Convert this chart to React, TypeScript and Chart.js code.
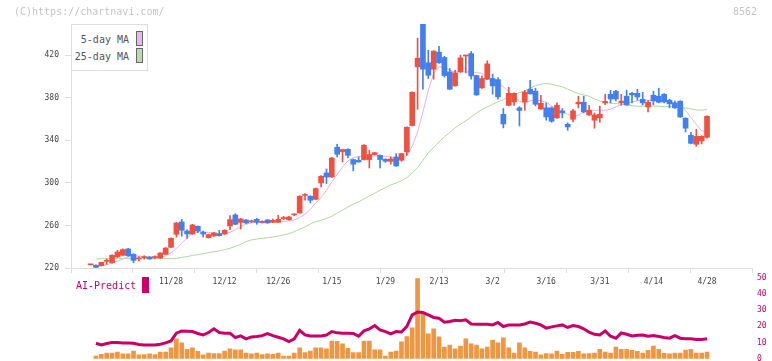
import React, { useEffect, useRef } from "react";
import { Chart, registerables } from "chart.js";
Chart.register(...registerables);

// candle index of the first array element (index 0 = 11/28)
const FIRST = -15;

const dateLabels = ["11/28", "12/12", "12/26", "1/15", "1/29", "2/13", "3/2", "3/16", "3/31", "4/14", "4/28"];
const dateLabelIndex = [0, 10, 20, 30, 40, 50, 60, 70, 80, 90, 100];

const opens = [
  223, 222.6, 222.2, 226.3, 225, 230.4, 232, 237.9, 232.9, 228.6, 229.7, 230.4, 229.8, 229.4, 232.9,
  239.5, 251.7, 263.3, 254.8, 252, 259.2, 253.6, 248.5, 250.1, 252.3,
  252, 259.5, 269.9, 263, 265.2, 263.4, 265.8, 262.7, 265.2, 263,
  263, 266.5, 265.5, 270, 271.8, 288.2, 287.5, 284.6, 300, 309.4,
  305.6, 333.6, 329.5, 331.7, 322, 321.3, 322, 322, 326.7, 326,
  322.3, 320.4, 324.5, 321.3, 329.2, 354, 409.2, 449.3, 413, 407,
  423, 418, 404.5, 391.3, 404.5, 419.4, 421.7, 401, 389.4, 397.6,
  398.2, 397.2, 364.6, 373, 376.2, 370.6, 376.2, 388.2, 386.3, 369.6,
  370.6, 370.6, 361.2, 367.8, 355.2, 359.9, 374.4, 375.9, 364, 359,
  361.2, 375.3, 383.4, 386.3, 375.6, 381.6, 384.3, 384.3, 378.7, 371.5,
  382.5, 381.6, 383.4, 377.8, 375.3, 376.9, 360.9, 344.9, 336.4, 339.5,
  343,
];
const closes = [
  223, 220.6, 225.3, 226.8, 232, 235, 237.3, 231.6, 227.2, 229, 230.1, 228.5, 230.1, 234.1, 238.8,
  247.9, 262.4, 255.5, 252, 260.5, 254.8, 252, 251.4, 253, 250.4,
  255.5, 265.5, 261.1, 266.1, 262.4, 263.8, 263, 263.9, 262.4, 264.8,
  265.8, 266.8, 268, 270.3, 287.5, 288.6, 283.7, 294.7, 306.3, 305.6,
  323.5, 327, 331.4, 326, 317.6, 319.8, 335.5, 326.7, 328.5, 322,
  320.4, 322.6, 316, 327.6, 352.4, 385.3, 417.3, 407, 401.3, 424,
  413, 401, 388.2, 403.5, 417.6, 419.8, 400.7, 382.8, 398.2, 412,
  391.3, 381, 355.5, 384.3, 384.3, 368.2, 385.3, 383.8, 374, 375,
  362.1, 358, 373.1, 365.9, 352.7, 367.8, 375.9, 366.8, 368.4, 364,
  364.6, 376.6, 379, 379, 376.9, 373.4, 382.8, 380.9, 375.3, 375.9,
  377.2, 375.9, 376.2, 374.4, 370.6, 362.1, 351.5, 337.3, 343.9, 343.9,
  362.7,
];
const highs = [
  223.3, 223, 225.5, 228.5, 232.5, 236.6, 238, 238.5, 233.5, 230.8, 231.6, 230.8, 231.5, 234.5, 239.2,
  248.3, 262.8, 265.8, 256, 261.1, 259.6, 254.8, 251.8, 253.6, 255.5,
  256, 269.3, 271.1, 266.7, 265.6, 265, 266.7, 264.3, 265.6, 266,
  269.6, 268.6, 268.5, 271, 288, 290, 288, 295.3, 306.9, 313.2,
  324, 336.4, 331.8, 332.2, 322.5, 324.5, 336, 330.7, 328.7, 326.5,
  322.7, 324.5, 327.6, 328, 352.8, 385.7, 436.2, 449.3, 424.9, 424.4,
  428.6, 419.2, 407.6, 406, 420.2, 420.2, 423.6, 401.5, 400.7, 414.9,
  402.3, 399.2, 370, 390, 384.7, 371.8, 387.2, 396.6, 389.1, 382.5,
  375.3, 371.5, 375.3, 370, 356.5, 369.3, 381.6, 381.6, 373.1, 365.9,
  372.2, 383.4, 387.2, 387.2, 383.4, 387.2, 385.3, 388.1, 385.3, 377.8,
  386.3, 389.1, 384.1, 378.7, 376.9, 377.3, 361.3, 347.7, 350.5, 344.3,
  363.1,
];
const lows = [
  223, 220.3, 222, 223.5, 224.5, 229.7, 231.5, 231, 225, 226.6, 228.3, 228.2, 228.6, 229, 232.5,
  239.2, 249, 249.8, 247.9, 251.6, 253.3, 249.2, 248.2, 249.8, 250,
  251.6, 256, 260.7, 256.7, 261.8, 262.5, 261.1, 262.3, 262, 262.7,
  262.6, 265.5, 265, 269.3, 271.4, 283.7, 281.2, 284.2, 296.2, 299.4,
  305.2, 324.5, 319.8, 323.5, 311.3, 319.3, 321.5, 314.1, 326.3, 314.1,
  319.3, 317.6, 315.6, 320.4, 326, 353.6, 369.3, 388.2, 398.2, 397.6,
  412.5, 399.5, 387.8, 391, 404, 403.5, 397.6, 382.4, 389, 397.2,
  383.5, 378.8, 351.8, 372.6, 373, 353.6, 368.4, 383.4, 372.5, 369.2,
  359, 357.1, 360.8, 361.2, 349.6, 357.4, 370.6, 365.9, 363.6, 351.5,
  357.1, 373.7, 375.3, 377.2, 373.1, 373, 375.3, 377.8, 373.4, 366.8,
  373.4, 375.3, 375.3, 370.6, 370.2, 361.7, 348, 336.7, 334.5, 336.7,
  342.2,
];
const ma5 = [
  null, 221, 222, 223, 224.7, 226.6, 228.5, 230.4, 231.3, 231.3, 230.7, 229.7, 229.4, 229.7, 231.6,
  234.4, 238.5, 243.5, 248.5, 252.3, 254.2, 254.2, 253.3, 253, 252.3,
  252.3, 253.6, 256, 259, 261, 262.7, 263.3, 263.3, 263.3, 263.3,
  263.6, 264, 264.2, 265.2, 267.4, 270.5, 275.2, 281.2, 286.2, 293,
  301, 308, 315, 320.7, 323.8, 324.8, 325.4, 325.4, 325.4, 325.4,
  325.1, 324.5, 322.9, 322, 326, 334.5, 348, 366.8, 387.2, 403,
  409.2, 409.2, 406, 404.5, 404.5, 404.5, 404.5, 403.8, 403, 400.4,
  397.6, 394, 390.4, 385.6, 381.6, 377, 374.7, 377.2, 378.4, 377.2,
  376, 372.5, 369.5, 367, 364.5, 362.7, 363.7, 366.8, 368.4, 368.4,
  368.4, 368.4, 369.3, 371.5, 373.7, 375.3, 376.2, 377.2, 377.8, 377.8,
  377.8, 377.8, 377.2, 376.2, 375.3, 373.7, 368.4, 361.5, 355.2, 349,
  348,
];
const ma25 = [
  null, 228.6, 228.7, 228.7, 228.8, 228.8, 228.8, 228.8, 228.8, 228.8, 228.8, 228.8, 228.8, 228.8, 228.9,
  229, 229.1, 230, 230.7, 231.9, 232.5, 233.5, 234.4, 235.4, 236,
  237.3, 238.5, 240.4, 242.3, 244.8, 246.4, 247.3, 247.9, 248.5, 249.2,
  250.1, 251, 252.3, 254.2, 256.4, 258.6, 261.4, 263.6, 264.9, 266.7,
  268.6, 271.8, 274.3, 277.4, 279.9, 282.4, 284.9, 287.8, 290.3, 293.1,
  295.6, 298.1, 300, 302.2, 305, 309.4, 314.4, 321.3, 328.2, 333.3,
  338.6, 343.3, 347.4, 351.8, 355.2, 358.4, 362.1, 365.9, 369, 371.5,
  374, 376.2, 378.4, 380.9, 382.8, 385, 386.3, 389.1, 391.6, 392.9,
  393.5, 392.9, 391.6, 390.4, 388.2, 386, 384.1, 382.8, 381.6, 379,
  377.2, 375.9, 375, 374.7, 374, 373.4, 372.5, 372.2, 372.2, 372.5,
  372.2, 372.2, 371.8, 371.8, 371.5, 370.9, 370.6, 369.6, 368.7, 368.4,
  369,
];
const volume = [
  null, 1.7, 2.8, 3.6, 3.6, 4.2, 3.0, 3.0, 4.8, 2.4, 2.6, 3.0, 2.6, 4.2, 4.2,
  6.7, 12.3, 9.8, 5.9, 6.7, 4.6, 2.4, 3.6, 3.2, 3.2,
  4.8, 6.1, 5.5, 5.5, 3.6, 3.0, 3.6, 2.6, 3.0, 2.8,
  3.6, 1.7, 1.7, 3.6, 6.7, 3.8, 4.8, 6.7, 6.7, 6.1,
  11.0, 10.8, 9.2, 6.5, 3.8, 3.8, 11.0, 11.0, 5.5, 5.5,
  1.7, 4.2, 4.8, 10.4, 13.7, 19.1, 49.4, 28.2, 15.4, 18.5,
  13.5, 7.3, 8.5, 6.1, 7.9, 12.3, 9.2, 8.5, 6.1, 7.3,
  11.6, 9.8, 12.9, 6.7, 3.6, 9.8, 6.7, 4.6, 4.2, 2.4,
  3.2, 3.0, 4.8, 2.8, 4.0, 4.0, 4.6, 3.0, 3.2, 3.6,
  5.9, 4.2, 3.6, 7.3, 5.9, 5.9, 5.2, 4.6, 3.6, 5.2,
  7.9, 5.9, 3.4, 3.0, 3.6, 3.6, 5.4, 5.9, 3.6, 3.6,
  4.2,
];
const aiPredict = [
  null, 9.6, 8.5, 9.4, 10, 10, 9.8, 9.8, 9.6, 8.8, 8.5, 8.5, 8.5, 9.0, 9.8,
  11, 15.8, 17.2, 17, 16.8, 15.6, 14.7, 16.2, 18.5, 16.2,
  15.8, 15.8, 13.1, 14.1, 12.3, 13.5, 13.7, 14.3, 15.6, 14.3,
  13.3, 12.3, 10.6, 12.3, 17.6, 14.7, 14.1, 14.1, 14.1, 14.7,
  16.8, 16, 15.8, 15.8, 15.6, 13.9, 17.2, 18.5, 20.5, 17.8,
  16.8, 15.4, 16.8, 16.5, 20, 27.1, 28.8, 28.5, 27.1, 25.5,
  25, 22.6, 23, 23.8, 23.4, 24, 21.5, 21.3, 21.3, 21.3,
  20.9, 22.4, 19.9, 20.9, 20.9, 20.9, 21.5, 22.6, 21.9, 20.9,
  18.9, 19.7, 20.3, 20.9, 19.3, 20.5, 19.9, 18.5, 16.4, 15.1,
  14.7, 17.2, 13.9, 12.7, 16, 15.1, 14.1, 14.5, 14.7, 13.9,
  14.3, 13.7, 13.1, 12.7, 14.3, 12.7, 12.3, 12.3, 11.9, 11.9,
  12.3,
];
const priceTicks = [220, 260, 300, 340, 380, 420];
const predictTicks = [0, 10, 20, 30, 40, 50];

const X_MIN = -18.66;
const X_MAX = 108.39;
const GRID_DIVISIONS = 11;

const UP = "#f05040";
const DOWN = "#4080f0";
const MONO = "'DejaVu Sans Mono', monospace";

const pts = (arr: (number | null)[]) =>
  arr.map((v, k) => (v == null ? null : { x: FIRST + k, y: v })).filter((p) => p !== null) as any[];

export default function App() {
  const topRef = useRef<HTMLCanvasElement>(null);
  const botRef = useRef<HTMLCanvasElement>(null);

  useEffect(() => {
    const colorAt = (k: number) => (closes[k] >= opens[k] ? UP : DOWN);
    const bodies = opens.map((o, k) => ({ x: FIRST + k, y: [o, closes[k]] }));
    const wicks = lows.map((l, k) => ({ x: FIRST + k, y: [l, highs[k]] }));

    const range = X_MAX - X_MIN;
    const xTickObjs: any[] = [];
    for (let k = 0; k <= GRID_DIVISIONS; k++) {
      xTickObjs.push({ value: X_MIN + (k * range) / GRID_DIVISIONS, grid: true, lbl: "" });
    }
    dateLabels.forEach((d, j) => xTickObjs.push({ value: dateLabelIndex[j], grid: false, lbl: d }));
    xTickObjs.sort((a, b) => a.value - b.value);

    const top = new Chart(topRef.current!, {
      type: "bar",
      data: {
        datasets: [
          {
            type: "bar",
            label: "body",
            data: bodies as any,
            backgroundColor: (ctx: any) => colorAt(ctx.dataIndex),
            barThickness: 5,
            minBarLength: 1,
            grouped: false,
            borderWidth: 0,
          } as any,
          {
            type: "bar",
            label: "wick",
            data: wicks as any,
            backgroundColor: (ctx: any) => colorAt(ctx.dataIndex),
            barThickness: 1,
            grouped: false,
            borderWidth: 0,
          } as any,
          {
            type: "line",
            label: "5-day MA",
            data: pts(ma5),
            borderColor: "#e8b0e8",
            borderWidth: 1,
            pointRadius: 0,
            tension: 0,
          } as any,
          {
            type: "line",
            label: "25-day MA",
            data: pts(ma25),
            borderColor: "#b0d8a0",
            borderWidth: 1,
            pointRadius: 0,
            tension: 0,
          } as any,
        ],
      },
      options: {
        responsive: false,
        animation: false,
        devicePixelRatio: 1,
        layout: { padding: { top: 24, left: 0, right: 20, bottom: 0 } },
        plugins: { legend: { display: false }, tooltip: { enabled: false } },
        events: [],
        scales: {
          x: {
            type: "linear",
            min: X_MIN,
            max: X_MAX,
            offset: false,
            afterBuildTicks: (scale: any) => {
              scale.ticks = xTickObjs.map((t) => ({ ...t }));
            },
            afterFit: (scale: any) => {
              scale.height = 93;
              scale.paddingLeft = 0;
              scale.paddingRight = 0;
            },
            grid: {
              offset: false,
              drawOnChartArea: false,
              drawTicks: true,
              tickLength: 5,
              color: (ctx: any) => (ctx.tick && ctx.tick.grid ? "#dddddd" : "rgba(0,0,0,0)"),
            },
            border: { display: true, color: "#dddddd" },
            ticks: {
              autoSkip: false,
              maxRotation: 0,
              minRotation: 0,
              padding: 4,
              color: "#444",
              font: { family: MONO, size: 8 },
              callback: (_v: any, i: number, ticks: any[]) => ticks[i].lbl || "",
            },
          } as any,
          y: {
            type: "linear",
            position: "left",
            min: 220,
            max: 449.5,
            afterBuildTicks: (scale: any) => {
              scale.ticks = priceTicks.map((v) => ({ value: v }));
            },
            afterFit: (scale: any) => {
              scale.width = 71;
            },
            grid: { drawOnChartArea: false, tickLength: 6, color: "#dddddd" },
            border: { display: true, color: "#dddddd" },
            ticks: { padding: 6, color: "#444", font: { family: MONO, size: 8 } },
          } as any,
        },
      } as any,
    });

    const bot = new Chart(botRef.current!, {
      type: "bar",
      data: {
        datasets: [
          {
            type: "line",
            label: "AI-Predict",
            data: pts(aiPredict),
            borderColor: "#cc0066",
            borderWidth: 3,
            pointRadius: 0,
            tension: 0,
          } as any,
          {
            type: "bar",
            label: "volume",
            data: pts(volume),
            backgroundColor: "#f09640",
            barThickness: 4,
            grouped: false,
            borderWidth: 0,
          } as any,
        ],
      },
      options: {
        responsive: false,
        animation: false,
        devicePixelRatio: 1,
        layout: { padding: { top: 277.7, left: 71, right: 0, bottom: 2.2 } },
        plugins: { legend: { display: false }, tooltip: { enabled: false } },
        events: [],
        scales: {
          x: { type: "linear", min: X_MIN, max: X_MAX, offset: false, display: false, grid: { offset: false } } as any,
          y: {
            type: "linear",
            position: "right",
            min: 0,
            max: 50,
            afterBuildTicks: (scale: any) => {
              scale.ticks = predictTicks.map((v) => ({ value: v }));
            },
            afterFit: (scale: any) => {
              scale.width = 20;
              scale.paddingTop = 0;
              scale.paddingBottom = 0;
            },
            grid: { display: false, drawTicks: false },
            border: { display: false },
            ticks: { padding: 5, color: "#cc0066", font: { family: MONO, size: 8 } },
          } as any,
        },
      } as any,
    });

    return () => {
      top.destroy();
      bot.destroy();
    };
  }, []);

  const txt: React.CSSProperties = { position: "absolute", font: `10px ${MONO}`, lineHeight: "12px", whiteSpace: "pre" };

  return (
    <div style={{ position: "fixed", left: 0, top: 0, width: 772, height: 361, background: "#fff", overflow: "hidden" }}>
      <canvas ref={topRef} width={772} height={361} style={{ position: "absolute", left: 0, top: 0 }} />
      <canvas ref={botRef} width={772} height={361} style={{ position: "absolute", left: 0, top: 0 }} />
      <div style={{ ...txt, left: 14, top: 6, color: "#c4c4c4" }}>(C)https://chartnavi.com/</div>
      <div style={{ ...txt, right: 15, top: 6, color: "#c4c4c4" }}>8562</div>
      <div
        style={{
          position: "absolute",
          left: 71,
          top: 24,
          width: 77,
          height: 47,
          boxSizing: "border-box",
          border: "1px solid #dddddd",
          background: "#fff",
        }}
      >
        <div style={{ ...txt, right: 18, top: 9, color: "#555" }}>5-day MA</div>
        <div style={{ ...txt, right: 18, top: 26, color: "#555" }}>25-day MA</div>
        <div style={{ position: "absolute", left: 64, top: 6, width: 7, height: 15, boxSizing: "border-box", border: "1px solid #666", background: "#e8b8e8" }} />
        <div style={{ position: "absolute", left: 64, top: 23, width: 7, height: 15, boxSizing: "border-box", border: "1px solid #666", background: "#b8dcb0" }} />
      </div>
      <div style={{ ...txt, left: 76, top: 280, color: "#cc0066" }}>AI-Predict</div>
      <div style={{ position: "absolute", left: 142, top: 277, width: 7, height: 16, background: "#cc0066" }} />
    </div>
  );
}
